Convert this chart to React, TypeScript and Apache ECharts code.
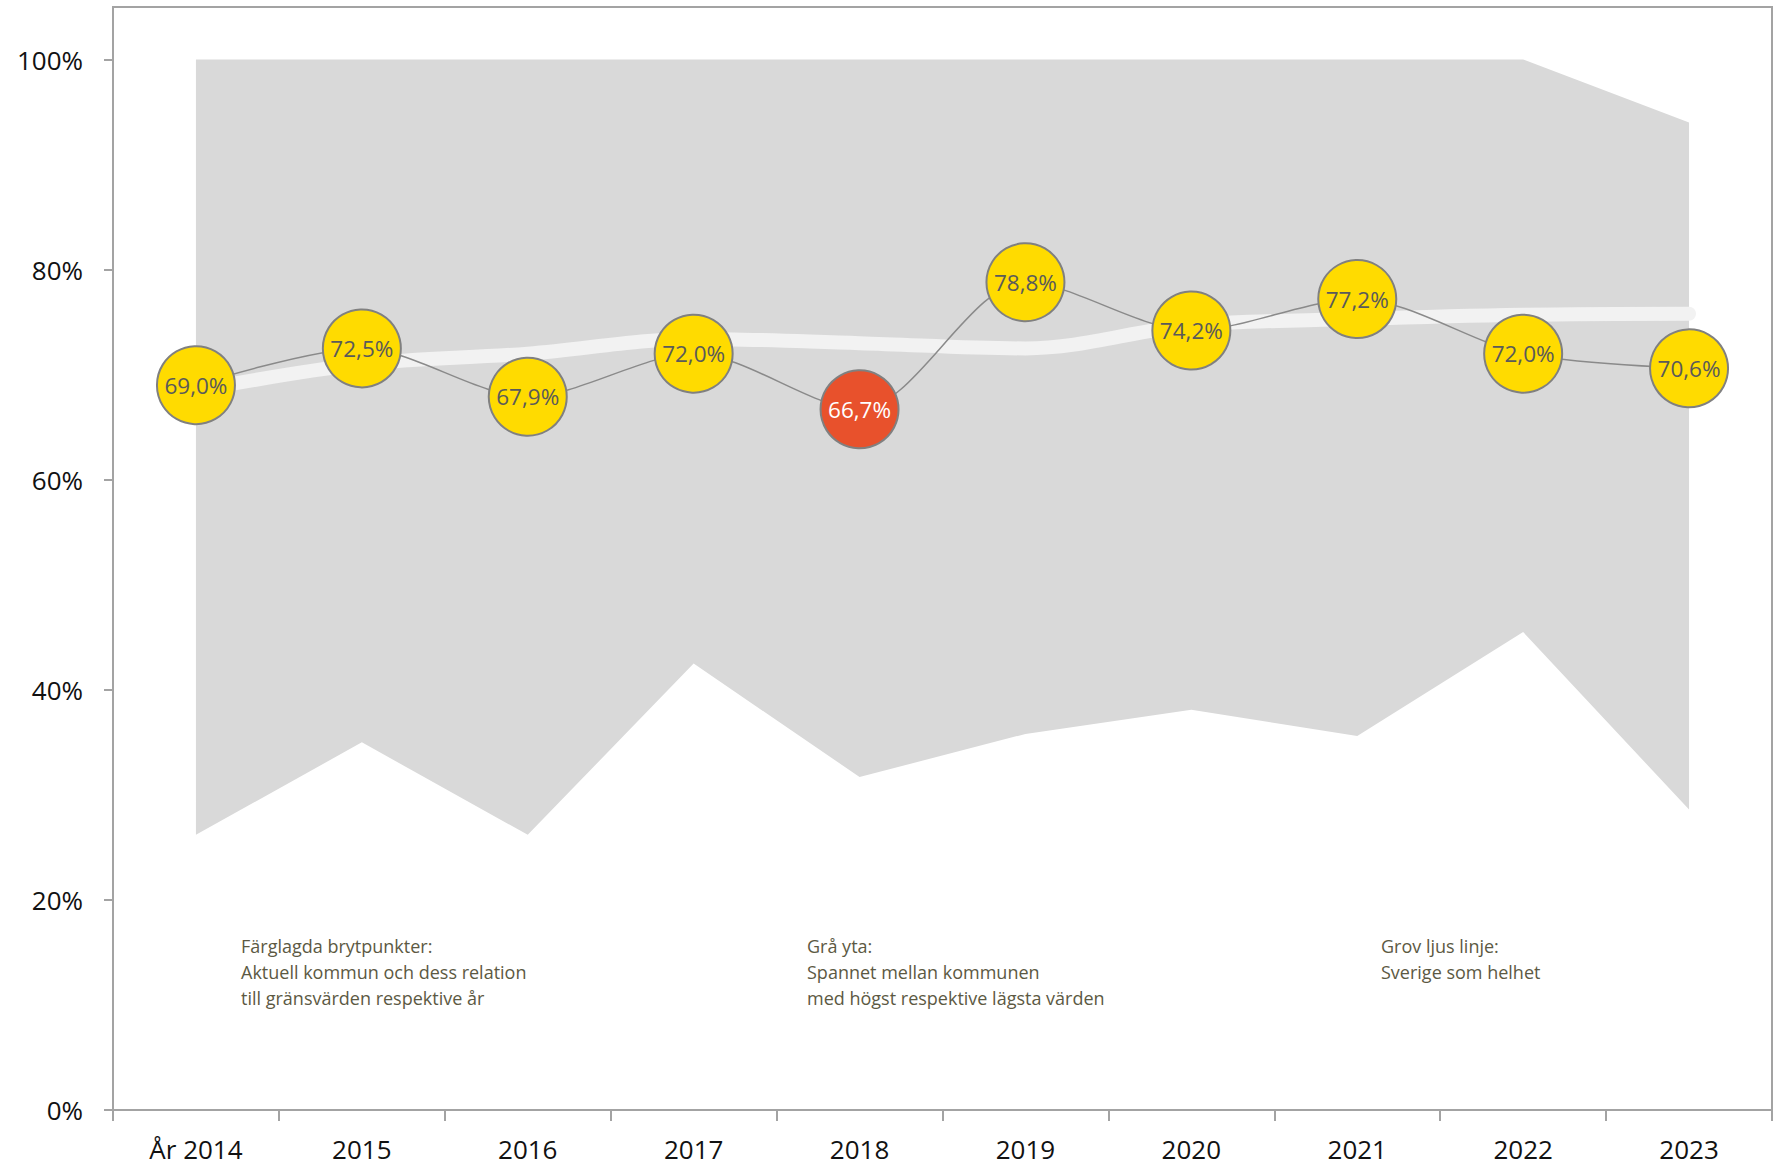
import React, { useEffect, useRef } from "react";
import * as echarts from "echarts";

const years = ["År 2014", "2015", "2016", "2017", "2018", "2019", "2020", "2021", "2022", "2023"];
const kommunValues = [69.0, 72.5, 67.9, 72.0, 66.7, 78.8, 74.2, 77.2, 72.0, 70.6];
const kommunStatus = ["mid", "mid", "mid", "mid", "low", "mid", "mid", "mid", "mid", "mid"];
const sverigeValues = [68.5, 71.0, 72.0, 73.4, 73.0, 72.5, 74.7, 75.3, 75.7, 75.8];
const maxValues = [100, 100, 100, 100, 100, 100, 100, 100, 100, 94.0];
const minValues = [26.2, 35.0, 26.2, 42.5, 31.7, 35.8, 38.1, 35.6, 45.5, 28.6];
const yTicks = [0, 20, 40, 60, 80, 100];

const noteTexts = [
  "Färglagda brytpunkter:\nAktuell kommun och dess relation\ntill gränsvärden respektive år",
  "Grå yta:\nSpannet mellan kommunen\nmed högst respektive lägsta värden",
  "Grov ljus linje:\nSverige som helhet",
];

const statusColor: Record<string, string> = { mid: "#FFDB00", low: "#E8512C" };
const statusText: Record<string, string> = { mid: "#5a5a5a", low: "#ffffff" };

const FONT = "'Open Sans', 'DejaVu Sans', sans-serif";

export default function App() {
  const ref = useRef<HTMLDivElement>(null);
  useEffect(() => {
    document.body.style.margin = "0";
    if (!ref.current) return;
    const chart = echarts.init(ref.current, null, { renderer: "svg" });
    const bandValues = maxValues.map((v, i) => +(v - minValues[i]).toFixed(2));
    const notePositions = [241, 807, 1381];
    chart.setOption({
      animation: false,
      backgroundColor: "#ffffff",
      grid: {
        left: 113,
        right: 10,
        top: 7,
        bottom: 56,
        show: true,
        borderColor: "#a3a3a3",
        borderWidth: 2,
        backgroundColor: "transparent",
      },
      xAxis: {
        type: "category",
        data: years,
        boundaryGap: true,
        axisLine: { lineStyle: { color: "#a3a3a3", width: 2 } },
        axisTick: { show: true, length: 11, alignWithLabel: false, lineStyle: { color: "#a3a3a3", width: 2 } },
        axisLabel: { color: "#111", fontFamily: FONT, fontSize: 26, margin: 26 },
        splitLine: { show: false },
      },
      yAxis: {
        type: "value",
        min: 0,
        max: 105,
        interval: 20,
        axisLine: { show: true, lineStyle: { color: "#a3a3a3", width: 2 } },
        axisTick: { show: true, length: 9, customValues: yTicks, lineStyle: { color: "#a3a3a3", width: 2 } },
        axisLabel: {
          customValues: yTicks,
          color: "#111",
          fontFamily: FONT,
          fontSize: 26,
          margin: 30,
          formatter: (v: number) => (v % 20 === 0 && v <= 100 ? v + "%" : ""),
        },
        splitLine: { show: false },
      },
      graphic: noteTexts.map((t, i) => ({
        type: "text",
        left: notePositions[i],
        top: 933,
        silent: true,
        style: {
          text: t,
          fill: "#5c5943",
          font: `18px ${FONT}`,
          lineHeight: 26,
        },
      })),
      series: [
        {
          name: "min",
          type: "line",
          stack: "band",
          data: minValues,
          symbol: "none",
          lineStyle: { opacity: 0, width: 0 },
          silent: true,
          z: 1,
        },
        {
          name: "span",
          type: "line",
          stack: "band",
          data: bandValues,
          symbol: "none",
          lineStyle: { opacity: 0, width: 0 },
          areaStyle: { color: "#d9d9d9", opacity: 1 },
          silent: true,
          z: 1,
        },
        {
          name: "Sverige",
          type: "line",
          data: sverigeValues,
          smooth: 0.35,
          symbol: "none",
          lineStyle: { color: "#f2f2f2", width: 14, cap: "round" },
          z: 2,
        },
        {
          name: "Kommun",
          type: "line",
          smooth: 0.3,
          data: kommunValues.map((v, i) => ({
            value: v,
            itemStyle: { color: statusColor[kommunStatus[i]] },
            label: { color: statusText[kommunStatus[i]] },
          })),
          symbol: "circle",
          symbolSize: 78,
          lineStyle: { color: "#8a8a8a", width: 1.5 },
          itemStyle: { borderColor: "#808080", borderWidth: 2 },
          label: {
            show: true,
            position: "inside",
            fontFamily: FONT,
            fontSize: 22.5,
            formatter: (p: any) => p.value.toFixed(1).replace(".", ",") + "%",
          },
          z: 3,
        },
      ],
    });
    return () => chart.dispose();
  }, []);
  return <div ref={ref} style={{ width: 1782, height: 1166 }} />;
}
